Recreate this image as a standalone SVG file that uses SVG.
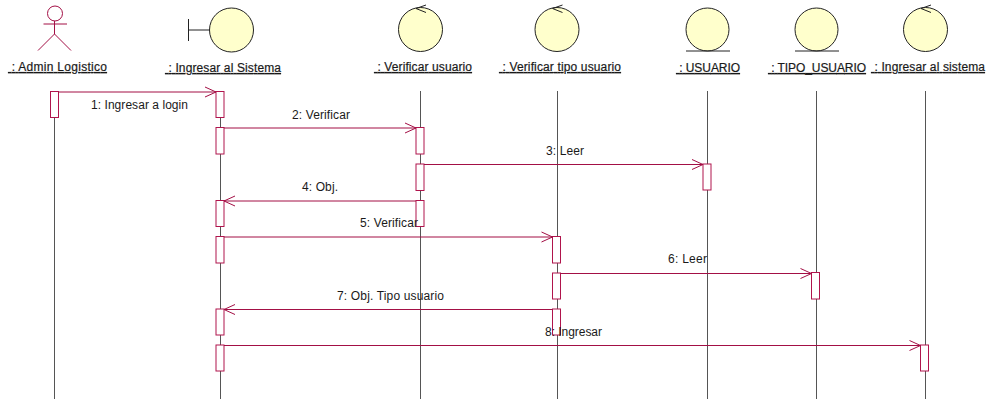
<svg xmlns="http://www.w3.org/2000/svg" width="989" height="399" viewBox="0 0 989 399">
<style>
text{font-family:"Liberation Sans",Arial,sans-serif;font-size:12px;fill:#1a1a1a}
.n{text-decoration:underline;white-space:pre;stroke:#1a1a1a;stroke-width:.2px}
.life{stroke:#555;stroke-width:1;fill:none}
.act{fill:#fff;stroke:#b0144c;stroke-width:1}
.msg{stroke:#a30f45;stroke-width:1;fill:none}
.o{fill:#ffffcc;stroke:#222;stroke-width:1}
.k{stroke:#222;stroke-width:1;fill:none}
.a{stroke:#a30f45;stroke-width:1;fill:none}
</style>
<rect width="989" height="399" fill="#fff"/>
<g id="lifelines">
<path class="life" d="M54.500 91V399M220.500 91V399M420.500 91V399M557.500 91V399M707.500 91V399M816.500 91V399M925.500 91V399"/>
</g>
<g id="n1"><circle cx="55" cy="13.500" r="7.500" fill="#fff" class="a"/><path class="a" d="M43.500 24H67M54.500 21V34M38 50.500L54.500 34L71 50.500"/><text class="n" x="8" y="71" textLength="99"> : Admin Logistico</text></g>
<g id="n2"><circle class="o" cx="231.500" cy="30" r="22"/><path class="k" d="M188.500 19V41M188.500 30H210"/><text class="n" x="165" y="72" textLength="116"> : Ingresar al Sistema</text></g>
<g id="n3"><circle class="o" cx="420.500" cy="29.500" r="22"/><path class="k" d="M426 5L416 8.500L426 12.500"/><text class="n" x="374" y="71" textLength="98"> : Verificar usuario</text></g>
<g id="n4"><circle class="o" cx="557" cy="29.500" r="22"/><path class="k" d="M562.500 5L552.500 8.500L562.500 12.500"/><text class="n" x="499" y="71" textLength="122"> : Verificar tipo usuario</text></g>
<g id="n5"><circle class="o" cx="707.500" cy="29.500" r="21.500"/><path class="k" d="M686 51H730"/><text class="n" x="676" y="72" textLength="64"> : USUARIO</text></g>
<g id="n6"><circle class="o" cx="816.500" cy="29.500" r="21.500"/><path class="k" d="M795 51H839"/><text class="n" x="768" y="72" textLength="98"> : TIPO_USUARIO</text></g>
<g id="n7"><circle class="o" cx="925.500" cy="29.500" r="22"/><path class="k" d="M931 5L921 8.500L931 12.500"/><text class="n" x="871" y="71" textLength="114"> : Ingresar al sistema</text></g>
<g id="activations">
<rect class="act" x="50.500" y="91.500" width="8" height="26"/>
<rect class="act" x="216" y="91.500" width="8" height="26"/>
<rect class="act" x="216" y="127.500" width="8" height="26.500"/>
<rect class="act" x="216" y="200.500" width="8" height="26"/>
<rect class="act" x="216" y="236.500" width="8" height="26.500"/>
<rect class="act" x="216" y="309" width="8" height="26"/>
<rect class="act" x="216" y="345" width="8" height="26"/>
<rect class="act" x="416" y="127.500" width="8" height="26.500"/>
<rect class="act" x="416" y="164" width="8" height="26.500"/>
<rect class="act" x="416" y="200.500" width="8" height="26"/>
<rect class="act" x="552.500" y="236.500" width="8" height="26.500"/>
<rect class="act" x="552.500" y="273" width="8" height="26"/>
<rect class="act" x="552.500" y="309" width="8" height="26"/>
<rect class="act" x="703" y="164" width="8" height="26"/>
<rect class="act" x="811.500" y="272.500" width="8" height="26.500"/>
<rect class="act" x="920.500" y="345" width="8" height="26"/>
</g>
<g id="connectors">
<path class="msg" d="M58.500 92H216M205 87L216 92L205 97"/>
<path class="msg" d="M224 128H416M405 123L416 128L405 133"/>
<path class="msg" d="M424 164.500H703M692 159.500L703 164.500L692 169.500"/>
<path class="msg" d="M416 201H224M235 196L224 201L235 206"/>
<path class="msg" d="M224 237H552.500M541.500 232L552.500 237L541.500 242"/>
<path class="msg" d="M560.500 273.500H811.500M800.500 268.500L811.500 273.500L800.500 278.500"/>
<path class="msg" d="M552.500 309.500H224M235 304.500L224 309.500L235 314.500"/>
<path class="msg" d="M224 345.500H920.500M909.500 340.500L920.500 345.500L909.500 350.500"/>
</g>
<g id="labels">
<text x="91" y="109" textLength="97">1: Ingresar a login</text>
<text x="292" y="119" textLength="58">2: Verificar</text>
<text x="546" y="155" textLength="38">3: Leer</text>
<text x="302" y="191" textLength="36">4: Obj.</text>
<text x="360" y="227" textLength="58">5: Verificar</text>
<text x="668" y="263" textLength="39">6: Leer</text>
<text x="337" y="300" textLength="107">7: Obj. Tipo usuario</text>
<text x="545" y="336" textLength="57">8: Ingresar</text>
</g>
</svg>
